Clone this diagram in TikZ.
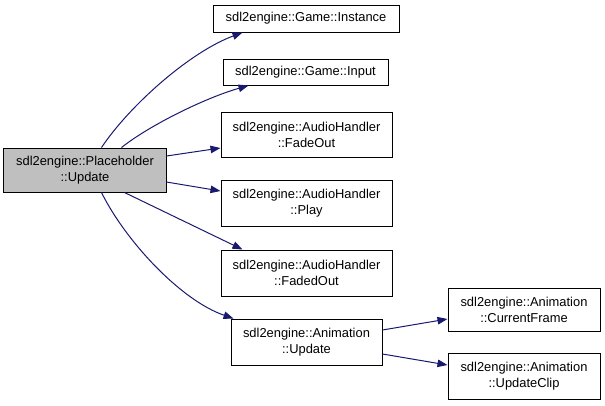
\documentclass[tikz,border=0pt]{standalone}
\usepackage{fontspec}
\setmainfont{Liberation Sans}
\usetikzlibrary{arrows.meta}
\definecolor{edgeblue}{HTML}{191970}
\definecolor{phgray}{HTML}{BFBFBF}
\begin{document}
\begin{tikzpicture}[x=1bp,y=-1bp,
  fn/.style={draw=black,line width=1bp,fill=white,align=center,inner sep=0pt,
    font=\fontsize{12.9bp}{16bp}\selectfont},
  edge/.style={draw=edgeblue,line width=1bp,-{Triangle[length=10bp,width=7.5bp]}}]
\useasboundingbox (0,0) rectangle (605,405);
\node[fn,fill=phgray,minimum width=162bp,minimum height=44bp] (ph) at (85,170) {sdl2engine::Placeholder\\::Update};
\node[fn,minimum width=186bp,minimum height=27bp] (inst) at (306,18.5) {sdl2engine::Game::Instance};
\node[fn,minimum width=165bp,minimum height=26bp] (inp) at (305.5,72) {sdl2engine::Game::Input};
\node[fn,minimum width=171bp,minimum height=45bp] (fo) at (306.5,134.5) {sdl2engine::AudioHandler\\::FadeOut};
\node[fn,minimum width=171bp,minimum height=46bp] (pl) at (306.5,203.5) {sdl2engine::AudioHandler\\::Play};
\node[fn,minimum width=171bp,minimum height=46bp] (fdo) at (306.5,273) {sdl2engine::AudioHandler\\::FadedOut};
\node[fn,minimum width=151bp,minimum height=46bp] (au) at (306.5,342) {sdl2engine::Animation\\::Update};
\node[fn,minimum width=152bp,minimum height=43bp] (cf) at (524,309.5) {sdl2engine::Animation\\::CurrentFrame};
\node[fn,minimum width=152bp,minimum height=46bp] (uc) at (524,376) {sdl2engine::Animation\\::UpdateClip};
% edges
\draw[edge] ([xshift=98bp]ph.north west) .. controls (130,105) and (190,52) .. ([xshift=30bp]inst.south west);
\draw[edge] ([xshift=118bp]ph.north west) .. controls (150,125) and (205,98) .. ([xshift=26bp]inp.south west);
\draw[edge] ([yshift=14bp]ph.east) -- ([yshift=-13.5bp]fo.west);
\draw[edge] ([yshift=-12bp]ph.east) -- ([yshift=12.5bp]pl.west);
\draw[edge] ([xshift=121bp]ph.south west) -- ([xshift=22bp]fdo.north west);
\draw[edge] ([xshift=98bp]ph.south west) .. controls (125,240) and (180,300) .. ([xshift=3bp]au.north west);
\draw[edge] ([yshift=12bp]au.east) -- ([yshift=-9.5bp]cf.west);
\draw[edge] ([yshift=-12bp]au.east) -- ([yshift=11bp]uc.west);
\end{tikzpicture}
\end{document}
